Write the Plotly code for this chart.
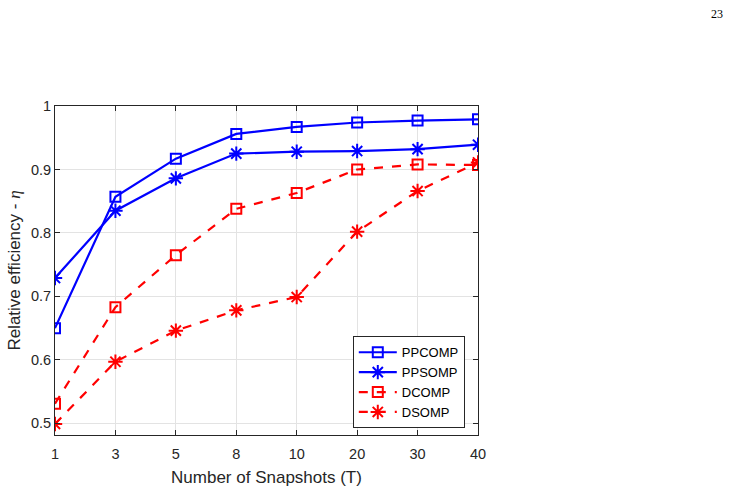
import plotly.graph_objects as go

snapshots = ["1", "3", "5", "8", "10", "20", "30", "40"]
ppcomp = [0.650, 0.857, 0.917, 0.956, 0.967, 0.974, 0.977, 0.979]
ppsomp = [0.729, 0.835, 0.886, 0.925, 0.928, 0.929, 0.932, 0.939]
dcomp = [0.531, 0.683, 0.765, 0.838, 0.863, 0.900, 0.908, 0.907]
dsomp = [0.499, 0.597, 0.646, 0.678, 0.699, 0.802, 0.866, 0.911]
y_ticks = [0.5, 0.6, 0.7, 0.8, 0.9, 1.0]
y_ticktext = ["0.5", "0.6", "0.7", "0.8", "0.9", "1"]

BLUE = "#0000FF"
RED = "#FF0000"

fig = go.Figure()
series = [
    ("PPCOMP", ppcomp, BLUE, "solid", "square-open", 10),
    ("PPSOMP", ppsomp, BLUE, "solid", "asterisk-open", 12),
    ("DCOMP", dcomp, RED, "dash", "square-open", 10),
    ("DSOMP", dsomp, RED, "dash", "asterisk-open", 12),
]
for name, vals, col, dash, sym, sz in series:
    fig.add_trace(go.Scatter(
        x=snapshots, y=vals, name=name, mode="lines+markers",
        line=dict(color=col, width=2.2, dash=dash),
        marker=dict(symbol=sym, size=sz, color=col, line=dict(color=col, width=2)),
    ))

axis_common = dict(
    showline=True, linecolor="#262626", linewidth=1, mirror="allticks",
    ticks="inside", ticklen=5, tickcolor="#262626",
    showgrid=True, gridcolor="#E3E3E3", gridwidth=1,
    zeroline=False, automargin=False,
    tickfont=dict(family="Liberation Sans, Arial", size=14.5, color="#262626"),
)

fig.update_xaxes(type="category", range=[0, 7], ticklabelstandoff=6, **axis_common,
                 title=dict(text="Number of Snapshots (T)", standoff=9,
                            font=dict(family="Liberation Sans, Arial", size=17, color="#262626")))
fig.update_yaxes(range=[0.4816, 1.0], tickvals=y_ticks, ticktext=y_ticktext, **axis_common,
                 title=dict(text="Relative efficiency - <i><span style='font-family:Liberation Serif'>η</span></i>",
                            standoff=5,
                            font=dict(family="Liberation Sans, Arial", size=17, color="#262626")))

fig.update_layout(
    width=731, height=492,
    margin=dict(l=55, r=253, t=106, b=57),
    paper_bgcolor="white", plot_bgcolor="white",
    showlegend=True,
    legend=dict(x=0.704, y=0.30, xanchor="left", yanchor="top",
                bordercolor="#262626", borderwidth=1, bgcolor="white",
                font=dict(family="Liberation Sans, Arial", size=13, color="#000000"),
                tracegroupgap=0, itemwidth=38),
)
fig.add_annotation(text="23", xref="paper", yref="paper",
                   x=(717 - 55) / (731 - 55 - 253), y=1 + (106 - 14) / (492 - 106 - 57),
                   xanchor="center", yanchor="middle", showarrow=False,
                   font=dict(family="Liberation Serif", size=12, color="#000"))

fig.write_html("out.html")
